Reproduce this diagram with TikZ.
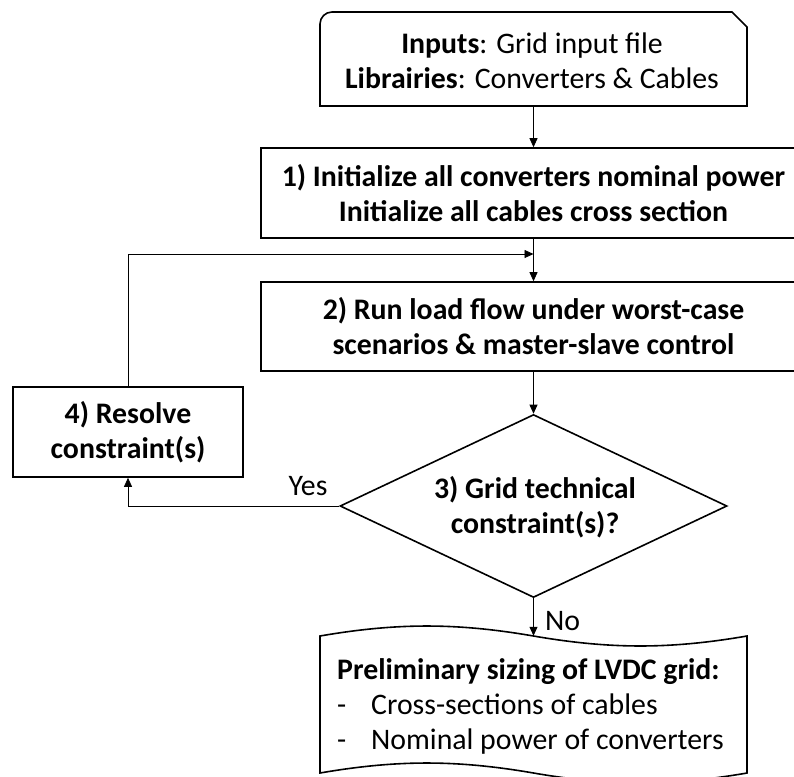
\documentclass[tikz,border=0pt]{standalone}
\usepackage{fontspec}
\setmainfont{Carlito}
\usetikzlibrary{arrows.meta,shapes.geometric}
\begin{document}
\begin{tikzpicture}[x=1pt,y=-1pt,
  boxline/.style={line width=1.6pt, line join=miter},
  stepbox/.style={draw, boxline, rectangle, inner sep=0pt, align=center, font=\fontsize{29.8}{35}\selectfont\bfseries},
  txt/.style={inner sep=0pt, align=center, font=\fontsize{29.8}{35}\selectfont},
  conn/.style={line width=0.8pt, -{Triangle[length=9pt,width=8pt]}}]
\clip (0,0) rectangle (794,776);
\fill[white] (0,0) rectangle (794,776);
% top input box (shape drawn as path)
\node[inner sep=0pt, minimum width=427pt, minimum height=94pt] (inp) at (533.5,59) {};
\draw[boxline] (320,106) -- (320,24) .. controls (320,17.4) and (325.4,12) .. (332,12) -- (732,12) -- (747,27) -- (747,106) -- cycle;
\node[txt] (inpt) at (532,61) {\textbf{Inputs}: Grid input file\\\textbf{Librairies}: Converters \& Cables};
% step 1
\node[stepbox, minimum width=545pt, minimum height=90pt] (s1) at (533.5,193) {1) Initialize all converters nominal power\\Initialize all cables cross section};
% step 2
\node[stepbox, minimum width=545pt, minimum height=89pt] (s2) at (533.5,326.5) {2) Run load flow under worst-case\\scenarios \& master-slave control};
% decision
\node[draw, boxline, diamond, minimum width=387pt, minimum height=183pt, inner sep=0pt] (dia) at (533.5,506) {};
\node[txt, font=\fontsize{29.8}{35}\selectfont\bfseries] (diat) at (535,507) {3) Grid technical\\constraint(s)?};
% step 4
\node[stepbox, minimum width=230pt, minimum height=90pt] (s4) at (128,432) {4) Resolve\\constraint(s)};
% output punched tape
\node[inner sep=0pt, minimum width=427pt, minimum height=137pt] (doc) at (533.5,704.5) {};
\draw[boxline] (320,636) .. controls (396.9,622.7) and (456.6,622.7) .. (533.5,636)
  .. controls (610.4,649.3) and (670.1,649.3) .. (747,636) -- (747,773)
  .. controls (670.1,786.3) and (610.4,786.3) .. (533.5,773)
  .. controls (456.6,759.7) and (396.9,759.7) .. (320,773) -- cycle;
\node[txt, align=left, anchor=west] (doct) at (337,706) {\textbf{Preliminary sizing of LVDC grid:}\\\makebox[34pt][l]{-}Cross-sections of cables\\\makebox[34pt][l]{-}Nominal power of converters};
% connectors
\coordinate (merge) at (533.5,254);
\draw[conn] (inp.south) -- (s1.north);
\draw[conn] (s1.south) -- (s2.north);
\draw[conn] (s2.south) -- (dia.north);
\draw[conn] (dia.west) -| (s4.south);
\draw[conn] (s4.north) |- (merge);
\draw[conn] (dia.south) -- (doc.north);
% labels
\node[txt] (yes) at (308,486) {Yes};
\node[txt, anchor=west] (no) at (545,621) {No};
\end{tikzpicture}
\end{document}
